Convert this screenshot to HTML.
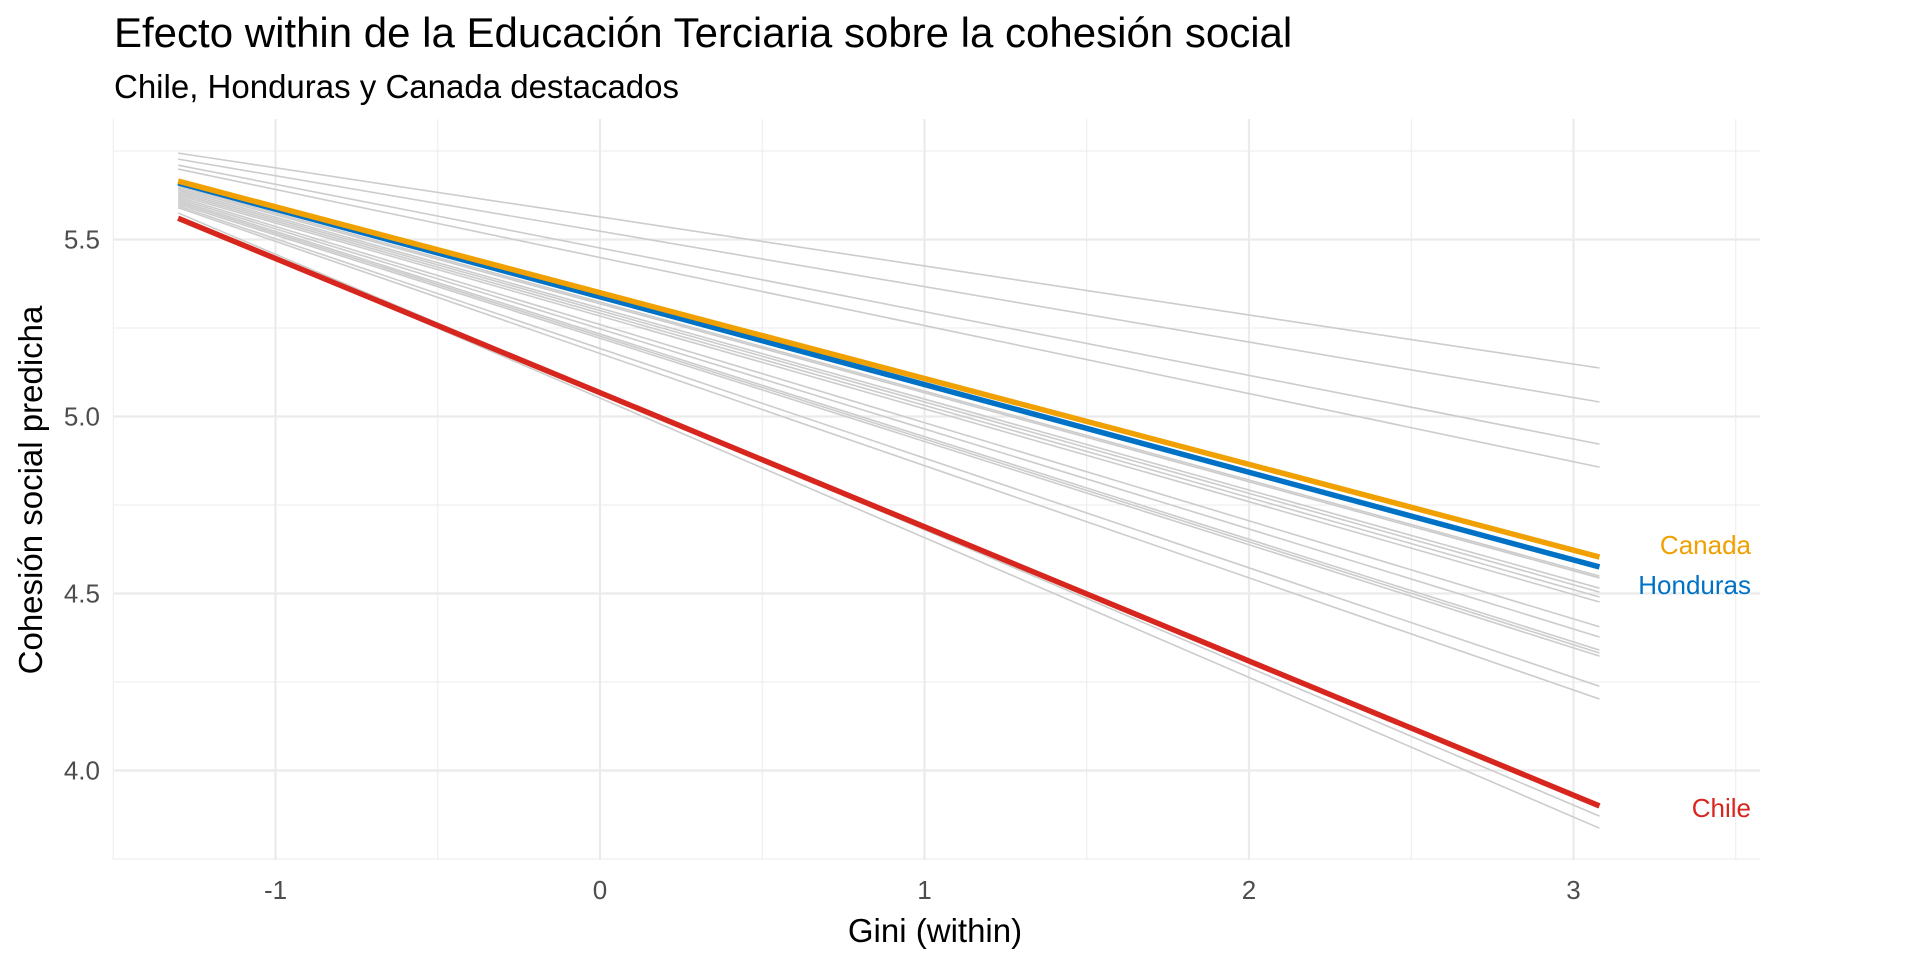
<!DOCTYPE html>
<html><head><meta charset="utf-8"><style>
body{margin:0;background:#fff;}
svg text{font-family:"Liberation Sans",sans-serif;}
</style></head><body>
<svg id="chart" width="1920" height="960" viewBox="0 0 1920 960" xmlns="http://www.w3.org/2000/svg">
<text x="114" y="47" font-size="42" fill="#000">Efecto within de la Educación Terciaria sobre la cohesión social</text>
<text x="114" y="98" font-size="33" fill="#000">Chile, Honduras y Canada destacados</text>
<g id="grid"></g>
<g id="lines"></g>
<g id="axes"></g>
<text x="935" y="942" font-size="33" text-anchor="middle" fill="#000">Gini (within)</text>
<text transform="translate(42,490) rotate(-90)" font-size="33" text-anchor="middle" fill="#000">Cohesión social predicha</text>
</svg>
<script>
const xStart = -1.3, xEnd = 3.08;
const grayStarts = [5.744,5.727,5.710,5.699,5.65,5.645,5.64,5.635,5.63,5.625,5.62,5.615,5.61,5.605,5.60,5.595,5.59,5.575,5.565];
const grayEnds = [5.137,5.041,4.922,4.857,4.549,4.544,4.515,4.504,4.490,4.476,4.406,4.377,4.340,4.332,4.323,4.238,4.202,3.871,3.837];
const highlightNames = ["Chile","Honduras","Canada"];
const highlightStarts = [5.56,5.66,5.665];
const highlightEnds = [3.90,4.575,4.603];
const highlightColors = ["#d7261e","#0072c6","#f0a000"];
const xTicks = [-1,0,1,2,3];
const xMinor = [-1.5,-0.5,0.5,1.5,2.5,3.5];
const yTicks = [4.0,4.5,5.0,5.5];
const yMinor = [3.75,4.25,4.75,5.25,5.75];

const X = v => 600 + v*324.5;
const Y = v => 416.5 - (v-5)*354;
const L = 114, R = 1760, T = 119, B = 860;
const NS = "http://www.w3.org/2000/svg";
function mk(tag, attrs, parent){const e=document.createElementNS(NS,tag);for(const k in attrs)e.setAttribute(k,attrs[k]);parent.appendChild(e);return e;}
const grid=document.getElementById('grid'), lines=document.getElementById('lines'), axes=document.getElementById('axes');
xMinor.forEach(v=>{const e=mk('line',{x1:X(v),x2:X(v),y1:T,y2:B,stroke:'#ebebeb','stroke-width':1},grid);

});
yMinor.forEach(v=>{const e=mk('line',{x1:L,x2:R,y1:Y(v),y2:Y(v),stroke:'#ebebeb','stroke-width':1},grid);

});
xTicks.forEach(v=>{const e=mk('line',{x1:X(v),x2:X(v),y1:T,y2:B,stroke:'#ebebeb','stroke-width':2.2},grid);


const t=mk('text',{x:X(v),y:899,'font-size':26,fill:'#4d4d4d','text-anchor':'middle'},axes);t.textContent=String(v);

});
yTicks.forEach(v=>{const e=mk('line',{x1:L,x2:R,y1:Y(v),y2:Y(v),stroke:'#ebebeb','stroke-width':2.2},grid);


const t=mk('text',{x:100,y:Y(v)+9,'font-size':26,fill:'#4d4d4d','text-anchor':'end'},axes);t.textContent=v.toFixed(1);

});
grayStarts.forEach((s,i)=>{const e=mk('line',{x1:X(xStart),y1:Y(s),x2:X(xEnd),y2:Y(grayEnds[i]),stroke:'#cccccc','stroke-width':1.6},lines);

});
highlightNames.forEach((n,i)=>{const e=mk('line',{x1:X(xStart),y1:Y(highlightStarts[i]),x2:X(xEnd),y2:Y(highlightEnds[i]),stroke:highlightColors[i],'stroke-width':5.5},lines);

});
const labelY = {Canada:554, Honduras:594, Chile:817};
highlightNames.forEach((n,i)=>{const t=mk('text',{x:1751,y:labelY[n],'font-size':26,fill:highlightColors[i],'text-anchor':'end'},axes);t.textContent=n;

});
</script>
</body></html>
